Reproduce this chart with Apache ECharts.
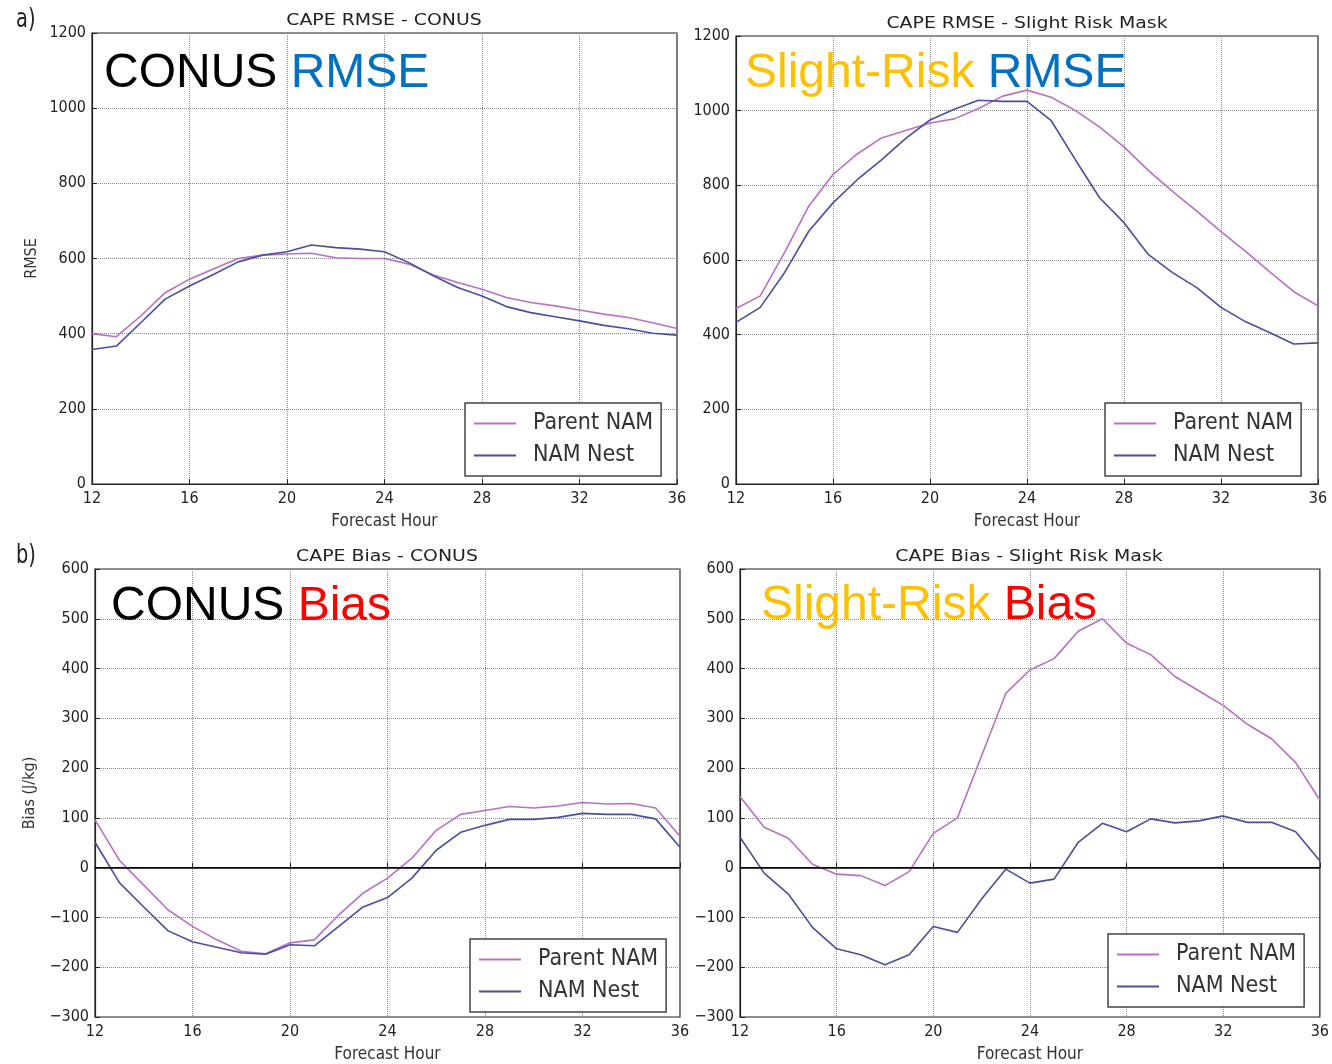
<!DOCTYPE html>
<html><head><meta charset="utf-8">
<script src="https://cdn.jsdelivr.net/npm/echarts@6/dist/echarts.min.js"></script>
<style>html,body{margin:0;padding:0;background:#fff}#c{width:1332px;height:1064px}</style>
</head><body><div id="c"></div>
<script>
const hours = [12,13,14,15,16,17,18,19,20,21,22,23,24,25,26,27,28,29,30,31,32,33,34,35,36];
const xTicks = [12,16,20,24,28,32,36];
const rmseConusParent = [400,392,447,509,545,573,600,609,612,614,602,600,600,585,556,536,518,496,483,474,463,452,443,429,414];
const rmseConusNest   = [358,367,429,492,527,558,591,609,618,636,629,625,618,589,554,523,500,472,456,445,434,422,413,401,396];
const rmseSlightParent = [470,504,620,744,829,884,927,947,967,978,1006,1039,1055,1036,1000,956,903,840,784,731,676,624,569,515,477];
const rmseSlightNest   = [433,473,566,677,753,815,868,926,975,1004,1028,1025,1025,973,868,766,700,615,566,526,473,435,406,375,378];
const biasConusParent = [96,15,-35,-85,-118,-145,-168,-173,-151,-145,-95,-51,-21,19,75,107,115,123,120,124,131,128,129,120,63];
const biasConusNest   = [51,-30,-79,-127,-149,-160,-171,-174,-155,-157,-118,-79,-60,-21,35,71,85,97,97,101,109,107,107,98,41];
const biasSlightParent = [143,81,59,7,-13,-16,-36,-8,69,100,225,350,397,420,475,500,451,428,384,355,326,288,259,211,136];
const biasSlightNest   = [61,-11,-53,-120,-163,-175,-195,-175,-118,-130,-63,-3,-31,-23,51,89,72,98,90,94,104,91,91,72,14];
const seriesNames = ['Parent NAM','NAM Nest'];
const panelTitles = ['CAPE RMSE - CONUS','CAPE RMSE - Slight Risk Mask','CAPE Bias - CONUS','CAPE Bias - Slight Risk Mask'];

const PINK = '#b870c4', BLUE = '#4a4f9c';
const CFONT = 'DejaVu Sans Condensed, DejaVu Sans';
const pair = arr => arr.map((v,i)=>[hours[i], v]);
const fmt = v => String(v).replace('-', '\u2212');

const grids = [
  {left:92, top:33, width:585, height:451},
  {left:736, top:36, width:582, height:448},
  {left:95, top:569, width:585, height:452},
  {left:740, top:569, width:580, height:449}
];
const yCfg = [
  {min:0,max:1200,interval:200,name:'RMSE',gap:52},
  {min:0,max:1200,interval:200,name:'',gap:52},
  {min:-300,max:600,interval:100,name:'Bias (J/kg)',gap:57},
  {min:-300,max:600,interval:100,name:'',gap:57}
];
const data = [
  [rmseConusParent, rmseConusNest],
  [rmseSlightParent, rmseSlightNest],
  [biasConusParent, biasConusNest],
  [biasSlightParent, biasSlightNest]
];

const xAxis = grids.map((g,i)=>({
  type:'value', gridIndex:i, min:12, max:36, interval:4,
  name:'Forecast Hour', nameLocation:'middle', nameGap:29,
  nameTextStyle:{fontFamily:CFONT, fontSize:17, color:'#333'},
  axisLine:{lineStyle:{color:'#222', width:1.2}},
  axisTick:{inside:true, length:5, lineStyle:{color:'#222'}},
  axisLabel:{fontFamily:CFONT, fontSize:16, color:'#222', margin:7, formatter:fmt},
  splitLine:{show:true, lineStyle:{type:'dotted', color:'#888', width:1}}
}));
const yAxis = yCfg.map((c,i)=>({
  type:'value', gridIndex:i, min:c.min, max:c.max, interval:c.interval,
  name:c.name, nameLocation:'middle', nameGap:c.gap, nameRotate:90,
  nameTextStyle:{fontFamily:CFONT, fontSize:16, color:'#333'},
  axisLine:{lineStyle:{color:'#222', width:1.2}},
  axisTick:{inside:true, length:5, lineStyle:{color:'#222'}},
  axisLabel:{fontFamily:CFONT, fontSize:16, color:'#222', margin:6, formatter:fmt},
  splitLine:{show:true, lineStyle:{type:'dotted', color:'#888', width:1}}
}));

const series = [];
data.forEach((d,i)=>{
  [PINK, BLUE].forEach((col,k)=>{
    const s = {
      type:'line', name:seriesNames[k], xAxisIndex:i, yAxisIndex:i,
      data:pair(d[k]), showSymbol:false, symbol:'none',
      lineStyle:{color:col, width:1.6}, itemStyle:{color:col}, z:3, animation:false
    };
    if (i>=2 && k===0) {
      s.markLine = {silent:true, symbol:'none', label:{show:false},
        lineStyle:{color:'#000', width:1.5, type:'solid'}, data:[{yAxis:0}], animation:false};
    }
    series.push(s);
  });
});

const legendPos = [
  {left:465, top:403}, {left:1105, top:403}, {left:470, top:939}, {left:1108, top:934}
];
const legend = legendPos.map(p=>({
  left:p.left, top:p.top, orient:'vertical', data:seriesNames,
  icon:'rect', itemWidth:42, itemHeight:2, itemGap:9,
  padding:[9,8,9,9], borderColor:'#444', borderWidth:1.5, backgroundColor:'#fff',
  textStyle:{fontFamily:CFONT, fontSize:23, color:'#333', padding:[0,0,0,12]},
  selectedMode:false
}));

const big = (txt, left, top) => ({
  text:txt, left:left, top:top, padding:0,
  textStyle:{fontFamily:'Liberation Sans, Arial', fontSize:48, fontWeight:'normal',
    rich:{k:{color:'#000',fontSize:48,fontFamily:'Liberation Sans'},
          b:{color:'#0070c0',fontSize:48,fontFamily:'Liberation Sans'},
          y:{color:'#ffc000',fontSize:48,fontFamily:'Liberation Sans'},
          r:{color:'#ff0000',fontSize:48,fontFamily:'Liberation Sans'}}}
});
const title = [
  big('{k|CONUS} {b|RMSE}', 104, 50),
  big('{y|Slight-Risk} {b|RMSE}', 745, 50),
  big('{k|CONUS} {r|Bias}', 111, 583),
  big('{y|Slight-Risk} {r|Bias}', 761, 582)
];

const titlePos = [[384,13],[1027,16],[387,549],[1029,549]];
const graphic = titlePos.map((p,i)=>({
  type:'text', x:p[0], y:p[1], scaleX:1.18,
  style:{text:panelTitles[i], font:'16px "DejaVu Sans"', fill:'#222', textAlign:'center', textVerticalAlign:'top'}
}));
graphic.push({type:'text', x:16, y:6, scaleX:0.8, style:{text:'a)', font:'27px "DejaVu Sans Condensed"', fill:'#222'}});
graphic.push({type:'text', x:16, y:542, scaleX:0.8, style:{text:'b)', font:'27px "DejaVu Sans Condensed"', fill:'#222'}});

const chart = echarts.init(document.getElementById('c'), null, {renderer:'canvas'});
chart.setOption({
  animation:false,
  backgroundColor:'#fff',
  title:title,
  legend:legend,
  graphic:graphic,
  grid:grids.map(g=>Object.assign({show:true, borderColor:'#222', borderWidth:1.2, containLabel:false}, g)),
  xAxis:xAxis, yAxis:yAxis, series:series
});
</script></body></html>
